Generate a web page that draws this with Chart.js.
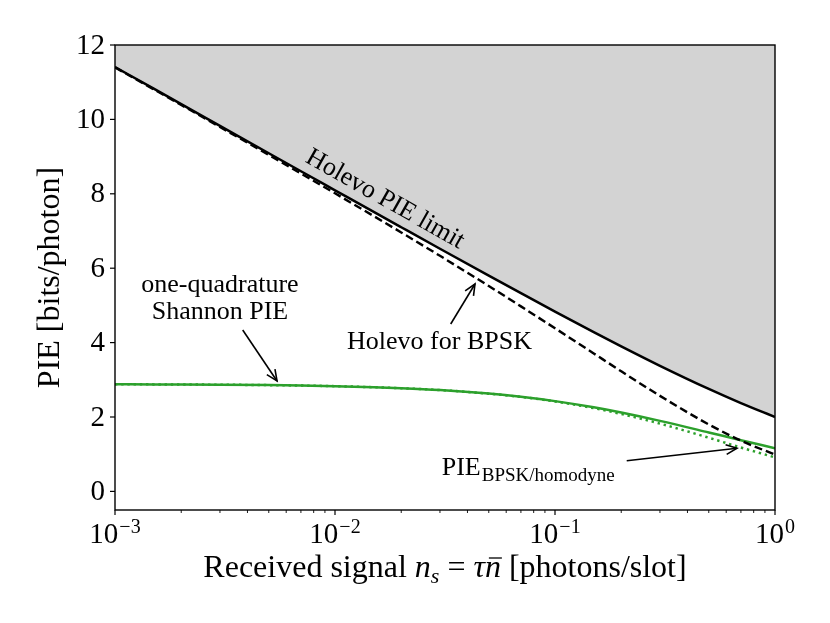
<!DOCTYPE html>
<html>
<head>
<meta charset="utf-8">
<script src="https://cdn.jsdelivr.net/npm/chart.js@4.4.1/dist/chart.umd.min.js"></script>
<style>
html,body{margin:0;padding:0;background:#ffffff;overflow:hidden;}
#wrap{width:830px;height:623px;}
</style>
</head>
<body>
<div id="wrap"><canvas id="c" width="830" height="623"></canvas></div>
<script>
// ---- data ----
const nValues        = [0.001, 0.0015, 0.002, 0.003, 0.005, 0.007, 0.01, 0.015, 0.02, 0.03, 0.05, 0.07, 0.1, 0.15, 0.2, 0.3, 0.5, 0.7, 1];
const holevoLimit    = [11.409, 10.825, 10.410, 9.826, 9.090, 8.606, 8.094, 7.512, 7.101, 6.523, 5.800, 5.329, 4.834, 4.283, 3.900, 3.377, 2.755, 2.374, 2.000];
const holevoBPSK     = [11.398, 10.808, 10.389, 9.796, 9.045, 8.546, 8.013, 7.401, 6.961, 6.332, 5.521, 4.974, 4.386, 3.709, 3.229, 2.568, 1.800, 1.365, 0.987];
const shannonOneQuad = [2.880, 2.877, 2.874, 2.868, 2.857, 2.846, 2.829, 2.802, 2.776, 2.725, 2.630, 2.544, 2.427, 2.260, 2.120, 1.896, 1.585, 1.376, 1.161];
const bpskHomodyne   = [2.880, 2.877, 2.874, 2.868, 2.857, 2.846, 2.829, 2.801, 2.775, 2.724, 2.628, 2.539, 2.418, 2.238, 2.081, 1.822, 1.443, 1.180, 0.913];

const yTickValues       = [0, 2, 4, 6, 8, 10, 12];
const yTickLabels       = ['0', '2', '4', '6', '8', '10', '12'];
const xMajorTicks       = [0.001, 0.01, 0.1, 1];
const xTickBase         = '10';
const xTickExponents    = ['\u22123', '\u22122', '\u22121', '0'];
const xMinorMultipliers = [2, 3, 4, 5, 6, 7, 8, 9];

const SERIF = '"Liberation Serif", "Times New Roman", serif';

function pts(ys) { return nValues.map((x, i) => ({ x: x, y: ys[i] })); }

function drawArrow(ctx, x1, y1, x2, y2) {
  ctx.beginPath(); ctx.moveTo(x1, y1); ctx.lineTo(x2, y2); ctx.stroke();
  const a = Math.atan2(y2 - y1, x2 - x1), L = 12, W = 0.42;
  ctx.beginPath();
  ctx.moveTo(x2 - L * Math.cos(a - W), y2 - L * Math.sin(a - W));
  ctx.lineTo(x2, y2);
  ctx.lineTo(x2 - L * Math.cos(a + W), y2 - L * Math.sin(a + W));
  ctx.stroke();
}

const decor = {
  id: 'decor',
  afterDatasetsDraw(chart) {
    const ctx = chart.ctx, ca = chart.chartArea;
    const xs = chart.scales.x, ys = chart.scales.y;
    const X = v => xs.getPixelForValue(v), Y = v => ys.getPixelForValue(v);
    ctx.save();
    // spines
    ctx.strokeStyle = '#000'; ctx.lineWidth = 1.4;
    ctx.strokeRect(ca.left, ca.top, ca.right - ca.left, ca.bottom - ca.top);

    // y ticks + labels
    ctx.lineWidth = 1.2;
    ctx.fillStyle = '#000';
    ctx.font = '29px ' + SERIF;
    ctx.textAlign = 'right'; ctx.textBaseline = 'middle';
    yTickValues.forEach((v, i) => {
      const y = Y(v);
      ctx.beginPath(); ctx.moveTo(ca.left - 5, y); ctx.lineTo(ca.left, y); ctx.stroke();
      ctx.fillText(yTickLabels[i], ca.left - 10, y + 1);
    });

    // x ticks (major + minor) + labels with superscript
    xMajorTicks.forEach((v, i) => {
      const x = X(v);
      ctx.lineWidth = 1.2;
      ctx.beginPath(); ctx.moveTo(x, ca.bottom); ctx.lineTo(x, ca.bottom + 5); ctx.stroke();
      if (i < xMajorTicks.length - 1) {
        xMinorMultipliers.forEach(m => {
          const xm = X(v * m);
          ctx.lineWidth = 0.9;
          ctx.beginPath(); ctx.moveTo(xm, ca.bottom); ctx.lineTo(xm, ca.bottom + 3); ctx.stroke();
        });
      }
      ctx.textAlign = 'left'; ctx.textBaseline = 'alphabetic';
      ctx.font = '29px ' + SERIF;
      const wb = ctx.measureText(xTickBase).width;
      ctx.font = '20px ' + SERIF;
      const we = ctx.measureText(xTickExponents[i]).width;
      const x0 = x - (wb + 1 + we) / 2;
      ctx.font = '29px ' + SERIF;
      ctx.fillText(xTickBase, x0, ca.bottom + 33);
      ctx.font = '20px ' + SERIF;
      ctx.fillText(xTickExponents[i], x0 + wb + 1, ca.bottom + 23);
    });

    // x axis title
    const pieces = [
      { t: 'Received signal ', f: '32px ' + SERIF },
      { t: 'n', f: 'italic 32px ' + SERIF },
      { t: 's', f: 'italic 22px ' + SERIF, dy: 6 },
      { t: ' = ', f: '32px ' + SERIF },
      { t: '\u03C4', f: 'italic 32px ' + SERIF },
      { t: 'n', f: 'italic 32px ' + SERIF, bar: true },
      { t: ' [photons/slot]', f: '32px ' + SERIF }
    ];
    let tot = 0;
    pieces.forEach(p => { ctx.font = p.f; p.w = ctx.measureText(p.t).width; tot += p.w; });
    let cx = (ca.left + ca.right) / 2 - tot / 2;
    const by = 577;
    ctx.textAlign = 'left'; ctx.textBaseline = 'alphabetic';
    pieces.forEach(p => {
      ctx.font = p.f;
      ctx.fillText(p.t, cx, by + (p.dy || 0));
      if (p.bar) {
        ctx.lineWidth = 1.3;
        ctx.beginPath(); ctx.moveTo(cx + 4, by - 19); ctx.lineTo(cx + p.w + 1, by - 19); ctx.stroke();
      }
      cx += p.w;
    });

    // y axis title
    ctx.save();
    ctx.translate(58.5, (ca.top + ca.bottom) / 2);
    ctx.rotate(-Math.PI / 2);
    ctx.font = '32px ' + SERIF;
    ctx.textAlign = 'center'; ctx.textBaseline = 'alphabetic';
    ctx.fillText('PIE [bits/photon]', 0, 0);
    ctx.restore();

    // annotations
    ctx.font = '26px ' + SERIF;
    ctx.textAlign = 'center'; ctx.textBaseline = 'alphabetic';
    // rotated Holevo label
    ctx.save();
    ctx.translate(X(0.0163), Y(7.69));
    ctx.rotate(29.5 * Math.PI / 180);
    ctx.fillText('Holevo PIE limit', 0, 0);
    ctx.restore();

    ctx.fillText('one-quadrature', X(0.003), Y(5.352));
    ctx.fillText('Shannon PIE', X(0.003), Y(5.352) + 27);
    ctx.fillText('Holevo for BPSK', X(0.02985), Y(3.82));

    ctx.textAlign = 'left';
    const px = X(0.03055), py = Y(0.43);
    ctx.fillText('PIE', px, py);
    const wP = ctx.measureText('PIE').width;
    ctx.font = '19px ' + SERIF;
    ctx.fillText('BPSK/homodyne', px + wP + 1, py + 6);

    ctx.lineWidth = 1.6;
    drawArrow(ctx, X(0.003806), Y(4.339), X(0.005451), Y(2.968));
    drawArrow(ctx, X(0.03357), Y(4.5), X(0.04329), Y(5.575));
    drawArrow(ctx, X(0.2118), Y(0.825), X(0.672), Y(1.159));
    ctx.restore();
  }
};

new Chart(document.getElementById('c'), {
  type: 'line',
  data: {
    datasets: [
      { label: 'Holevo PIE limit', data: pts(holevoLimit), borderColor: '#000', borderWidth: 2.5,
        fill: 'end', backgroundColor: '#d3d3d3', order: 1 },
      { label: 'Holevo for BPSK', data: pts(holevoBPSK), borderColor: '#000', borderWidth: 2.4,
        borderDash: [8, 4], fill: false, order: 2 },
      { label: 'one-quadrature Shannon PIE', data: pts(shannonOneQuad), borderColor: '#2ca02c', borderWidth: 2.5,
        fill: false, order: 3 },
      { label: 'PIE BPSK/homodyne', data: pts(bpskHomodyne), borderColor: '#2ca02c', borderWidth: 2.5,
        borderDash: [2.4, 3.8], fill: false, order: 4 }
    ]
  },
  options: {
    responsive: false,
    animation: false,
    devicePixelRatio: 1,
    layout: { padding: { left: 115, right: 55, top: 45, bottom: 113 } },
    elements: { point: { radius: 0 }, line: { cubicInterpolationMode: 'monotone', borderCapStyle: 'butt' } },
    scales: {
      x: { type: 'logarithmic', min: 0.001, max: 1, display: false },
      y: { type: 'linear', min: -0.5, max: 12, display: false }
    },
    plugins: {
      legend: { display: false },
      tooltip: { enabled: false },
      filler: { drawTime: 'beforeDatasetsDraw' }
    }
  },
  plugins: [decor]
});
</script>
</body>
</html>
